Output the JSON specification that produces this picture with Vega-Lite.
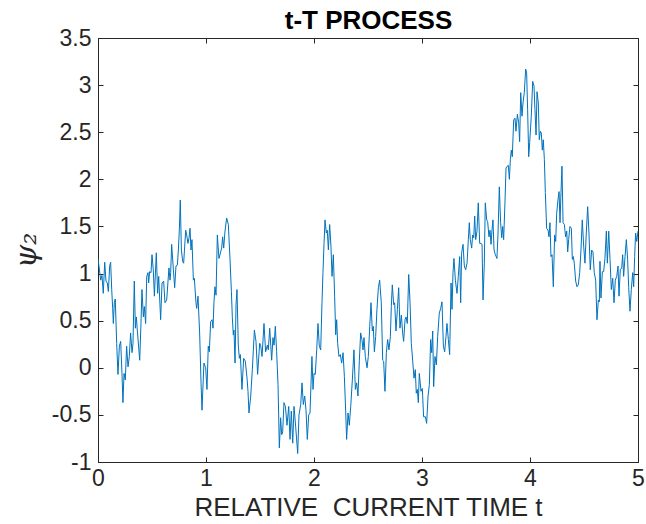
{
  "$schema": "https://vega.github.io/schema/vega-lite/v6.json",
  "width": 540,
  "height": 424,
  "autosize": {"type": "none"},
  "padding": {"left": 98, "top": 38, "right": 8, "bottom": 62},
  "background": "white",
  "config": {
    "view": {"stroke": "#262626", "strokeWidth": 1},
    "axis": {"grid": false}
  },
  "data": {"values": [
{"t":0,"y":1.16},{"t":0.025,"y":0.93},{"t":0.037,"y":0.98},{"t":0.049,"y":0.79},{"t":0.062,"y":1.12},{"t":0.074,"y":0.92},{"t":0.086,"y":0.90},{"t":0.096,"y":0.81},{"t":0.108,"y":1.08},{"t":0.117,"y":1.12},{"t":0.127,"y":0.83},{"t":0.136,"y":0.63},{"t":0.142,"y":0.47},{"t":0.151,"y":0.69},{"t":0.160,"y":0.73},{"t":0.173,"y":0.26},{"t":0.185,"y":-0.07},{"t":0.198,"y":0.23},{"t":0.210,"y":0.28},{"t":0.222,"y":-0.06},{"t":0.231,"y":-0.37},{"t":0.241,"y":-0.06},{"t":0.253,"y":-0.13},{"t":0.265,"y":0.23},{"t":0.278,"y":0.01},{"t":0.290,"y":0.12},{"t":0.302,"y":0.37},{"t":0.315,"y":0.16},{"t":0.324,"y":0.26},{"t":0.336,"y":0.92},{"t":0.346,"y":0.42},{"t":0.355,"y":0.54},{"t":0.364,"y":0.40},{"t":0.386,"y":0.08},{"t":0.398,"y":0.47},{"t":0.407,"y":0.83},{"t":0.420,"y":0.54},{"t":0.429,"y":0.65},{"t":0.441,"y":0.47},{"t":0.451,"y":0.97},{"t":0.463,"y":1.01},{"t":0.469,"y":0.90},{"t":0.478,"y":1.02},{"t":0.491,"y":1.01},{"t":0.500,"y":1.20},{"t":0.512,"y":1.04},{"t":0.522,"y":0.76},{"t":0.540,"y":1.22},{"t":0.552,"y":0.79},{"t":0.562,"y":0.97},{"t":0.580,"y":0.51},{"t":0.593,"y":0.90},{"t":0.608,"y":0.92},{"t":0.620,"y":0.69},{"t":0.636,"y":0.72},{"t":0.657,"y":1.06},{"t":0.667,"y":0.93},{"t":0.673,"y":1.01},{"t":0.682,"y":1.31},{"t":0.698,"y":1.04},{"t":0.710,"y":0.85},{"t":0.722,"y":1.08},{"t":0.735,"y":1.09},{"t":0.744,"y":1.25},{"t":0.753,"y":1.46},{"t":0.762,"y":1.78},{"t":0.772,"y":1.25},{"t":0.784,"y":1.13},{"t":0.793,"y":1.11},{"t":0.812,"y":1.46},{"t":0.821,"y":1.41},{"t":0.833,"y":1.32},{"t":0.843,"y":1.38},{"t":0.852,"y":1.48},{"t":0.861,"y":1.25},{"t":0.870,"y":1.36},{"t":0.883,"y":0.93},{"t":0.892,"y":0.95},{"t":0.907,"y":0.69},{"t":0.914,"y":0.63},{"t":0.926,"y":0.76},{"t":0.941,"y":0.37},{"t":0.954,"y":-0.16},{"t":0.963,"y":-0.45},
{"t":0.981,"y":0.05},{"t":0.997,"y":0.00},{"t":1.009,"y":-0.23},{"t":1.021,"y":0.23},{"t":1.031,"y":0.17},{"t":1.043,"y":0.49},{"t":1.056,"y":0.51},{"t":1.065,"y":0.42},{"t":1.074,"y":0.70},{"t":1.083,"y":0.86},{"t":1.093,"y":0.77},{"t":1.105,"y":1.41},{"t":1.120,"y":1.16},{"t":1.136,"y":1.23},{"t":1.145,"y":1.27},{"t":1.154,"y":1.39},{"t":1.164,"y":1.27},{"t":1.176,"y":1.45},{"t":1.191,"y":1.59},{"t":1.207,"y":1.52},{"t":1.222,"y":1.16},{"t":1.235,"y":0.81},{"t":1.244,"y":0.53},{"t":1.253,"y":0.35},{"t":1.259,"y":0.40},{"t":1.269,"y":0.05},{"t":1.278,"y":0.67},{"t":1.287,"y":0.83},{"t":1.299,"y":0.24},{"t":1.309,"y":0.10},{"t":1.318,"y":0.14},{"t":1.333,"y":-0.23},{"t":1.349,"y":0.10},{"t":1.364,"y":0.07},{"t":1.380,"y":-0.11},{"t":1.389,"y":-0.25},{"t":1.398,"y":-0.48},{"t":1.414,"y":-0.30},{"t":1.429,"y":-0.02},{"t":1.448,"y":0.40},{"t":1.463,"y":0.28},{"t":1.478,"y":-0.07},{"t":1.497,"y":0.26},{"t":1.506,"y":0.24},{"t":1.519,"y":0.12},{"t":1.537,"y":0.47},{"t":1.552,"y":0.17},{"t":1.568,"y":0.24},{"t":1.577,"y":0.19},{"t":1.590,"y":0.42},{"t":1.608,"y":0.08},{"t":1.620,"y":0.32},{"t":1.630,"y":0.24},{"t":1.642,"y":0.44},{"t":1.654,"y":0.17},{"t":1.667,"y":-0.18},{"t":1.679,"y":-0.85},{"t":1.691,"y":-0.53},{"t":1.701,"y":-0.71},{"t":1.710,"y":-0.68},{"t":1.722,"y":-0.37},{"t":1.735,"y":-0.41},{"t":1.750,"y":-0.61},{"t":1.766,"y":-0.41},{"t":1.778,"y":-0.76},{"t":1.790,"y":-0.46},{"t":1.803,"y":-0.80},{"t":1.815,"y":-0.41},{"t":1.830,"y":-0.62},{"t":1.849,"y":-0.91},{"t":1.861,"y":-0.50},{"t":1.877,"y":-0.39},{"t":1.889,"y":-0.16},{"t":1.901,"y":-0.39},{"t":1.914,"y":-0.30},{"t":1.926,"y":-0.45},{"t":1.938,"y":-0.76},{"t":1.951,"y":-0.50},{"t":1.963,"y":-0.48},{"t":1.972,"y":-0.18},
{"t":1.981,"y":0.12},{"t":1.991,"y":-0.23},{"t":2.000,"y":-0.06},{"t":2.012,"y":-0.07},{"t":2.025,"y":0.19},{"t":2.037,"y":0.47},{"t":2.049,"y":0.23},{"t":2.062,"y":0.19},{"t":2.074,"y":0.69},{"t":2.083,"y":1.01},{"t":2.093,"y":1.32},{"t":2.102,"y":1.57},{"t":2.114,"y":1.43},{"t":2.123,"y":1.46},{"t":2.133,"y":1.25},{"t":2.145,"y":1.52},{"t":2.157,"y":1.29},{"t":2.167,"y":0.97},{"t":2.179,"y":1.20},{"t":2.191,"y":0.76},{"t":2.201,"y":0.35},{"t":2.210,"y":0.51},{"t":2.219,"y":0.26},{"t":2.231,"y":0.12},{"t":2.244,"y":0.14},{"t":2.256,"y":0.05},{"t":2.269,"y":0.16},{"t":2.281,"y":-0.09},{"t":2.293,"y":-0.45},{"t":2.302,"y":-0.76},{"t":2.315,"y":-0.48},{"t":2.327,"y":-0.61},{"t":2.340,"y":-0.41},{"t":2.355,"y":-0.13},{"t":2.370,"y":0.19},{"t":2.383,"y":-0.23},{"t":2.395,"y":-0.16},{"t":2.407,"y":-0.30},{"t":2.420,"y":0.08},{"t":2.432,"y":0.37},{"t":2.444,"y":0.30},{"t":2.454,"y":0.19},{"t":2.463,"y":0.32},{"t":2.475,"y":0.12},{"t":2.491,"y":0.00},{"t":2.503,"y":0.12},{"t":2.516,"y":0.44},{"t":2.528,"y":0.69},{"t":2.540,"y":0.39},{"t":2.549,"y":0.44},{"t":2.559,"y":0.17},{"t":2.571,"y":0.33},{"t":2.583,"y":0.62},{"t":2.596,"y":0.85},{"t":2.608,"y":0.93},{"t":2.623,"y":0.69},{"t":2.636,"y":0.08},{"t":2.645,"y":0.07},{"t":2.657,"y":-0.25},{"t":2.670,"y":0.16},{"t":2.682,"y":0.30},{"t":2.694,"y":0.19},{"t":2.707,"y":0.33},{"t":2.716,"y":0.65},{"t":2.725,"y":0.88},{"t":2.738,"y":0.67},{"t":2.747,"y":0.69},{"t":2.759,"y":0.39},{"t":2.772,"y":0.62},{"t":2.784,"y":0.85},{"t":2.796,"y":0.42},{"t":2.809,"y":0.56},{"t":2.821,"y":0.37},{"t":2.830,"y":0.28},{"t":2.843,"y":0.51},{"t":2.852,"y":0.54},{"t":2.864,"y":0.47},{"t":2.877,"y":0.99},{"t":2.889,"y":0.70},{"t":2.901,"y":0.26},{"t":2.914,"y":0.07},{"t":2.926,"y":-0.11},{"t":2.938,"y":-0.02},{"t":2.947,"y":-0.27},{"t":2.957,"y":-0.23},{"t":2.966,"y":-0.37},{"t":2.975,"y":-0.06},
{"t":2.991,"y":-0.25},{"t":3.003,"y":-0.22},{"t":3.015,"y":-0.52},{"t":3.031,"y":-0.52},{"t":3.043,"y":-0.59},{"t":3.056,"y":-0.30},{"t":3.068,"y":-0.18},{"t":3.080,"y":0.30},{"t":3.090,"y":0.16},{"t":3.099,"y":0.39},{"t":3.108,"y":-0.20},{"t":3.120,"y":0.12},{"t":3.133,"y":0.03},{"t":3.145,"y":0.33},{"t":3.160,"y":0.58},{"t":3.173,"y":0.63},{"t":3.185,"y":0.70},{"t":3.198,"y":0.23},{"t":3.210,"y":0.17},{"t":3.222,"y":0.33},{"t":3.231,"y":0.47},{"t":3.244,"y":0.30},{"t":3.256,"y":0.14},{"t":3.269,"y":0.90},{"t":3.278,"y":0.62},{"t":3.287,"y":1.01},{"t":3.296,"y":1.16},{"t":3.309,"y":0.93},{"t":3.324,"y":0.79},{"t":3.336,"y":0.97},{"t":3.349,"y":1.18},{"t":3.358,"y":0.69},{"t":3.367,"y":1.22},{"t":3.380,"y":1.31},{"t":3.392,"y":1.08},{"t":3.404,"y":1.04},{"t":3.417,"y":1.11},{"t":3.429,"y":1.36},{"t":3.438,"y":1.54},{"t":3.447,"y":1.36},{"t":3.460,"y":1.27},{"t":3.469,"y":1.41},{"t":3.479,"y":1.38},{"t":3.488,"y":1.61},{"t":3.497,"y":1.36},{"t":3.509,"y":1.45},{"t":3.521,"y":1.75},{"t":3.534,"y":1.32},{"t":3.546,"y":1.32},{"t":3.556,"y":1.31},{"t":3.565,"y":0.72},{"t":3.577,"y":1.11},{"t":3.586,"y":1.75},{"t":3.599,"y":1.57},{"t":3.608,"y":1.55},{"t":3.620,"y":1.39},{"t":3.630,"y":1.46},{"t":3.639,"y":1.31},{"t":3.648,"y":1.46},{"t":3.657,"y":1.57},{"t":3.667,"y":1.25},{"t":3.679,"y":1.20},{"t":3.694,"y":1.16},{"t":3.704,"y":1.43},{"t":3.716,"y":1.92},{"t":3.728,"y":1.54},{"t":3.738,"y":1.38},{"t":3.747,"y":1.50},{"t":3.756,"y":1.36},{"t":3.769,"y":1.78},{"t":3.778,"y":2.12},{"t":3.790,"y":2.14},{"t":3.799,"y":2.15},{"t":3.809,"y":2.00},{"t":3.818,"y":2.21},{"t":3.827,"y":2.31},{"t":3.836,"y":2.24},{"t":3.849,"y":2.63},{"t":3.861,"y":2.65},{"t":3.870,"y":2.51},{"t":3.883,"y":2.69},{"t":3.895,"y":2.60},{"t":3.904,"y":2.40},{"t":3.914,"y":2.92},{"t":3.926,"y":2.67},{"t":3.935,"y":2.81},{"t":3.947,"y":2.92},{"t":3.960,"y":3.17},{"t":3.969,"y":3.13},{"t":3.978,"y":2.74},{"t":3.988,"y":2.24},{"t":3.997,"y":2.39},
{"t":4.012,"y":2.67},{"t":4.025,"y":3.04},{"t":4.037,"y":2.99},{"t":4.046,"y":2.74},{"t":4.056,"y":2.47},{"t":4.065,"y":2.93},{"t":4.077,"y":2.81},{"t":4.086,"y":2.42},{"t":4.096,"y":2.51},{"t":4.105,"y":2.49},{"t":4.114,"y":2.31},{"t":4.123,"y":2.42},{"t":4.133,"y":2.21},{"t":4.142,"y":1.86},{"t":4.154,"y":1.48},{"t":4.167,"y":1.46},{"t":4.176,"y":1.39},{"t":4.185,"y":1.54},{"t":4.194,"y":1.18},{"t":4.204,"y":1.20},{"t":4.216,"y":0.86},{"t":4.228,"y":1.41},{"t":4.238,"y":1.34},{"t":4.247,"y":1.64},{"t":4.259,"y":1.78},{"t":4.269,"y":1.87},{"t":4.278,"y":1.54},{"t":4.287,"y":1.86},{"t":4.296,"y":2.14},{"t":4.306,"y":1.54},{"t":4.318,"y":1.52},{"t":4.330,"y":1.39},{"t":4.340,"y":1.45},{"t":4.349,"y":1.23},{"t":4.358,"y":1.36},{"t":4.370,"y":1.50},{"t":4.383,"y":1.48},{"t":4.392,"y":1.15},{"t":4.401,"y":1.18},{"t":4.410,"y":1.11},{"t":4.423,"y":0.92},{"t":4.435,"y":0.86},{"t":4.447,"y":0.88},{"t":4.460,"y":1.01},{"t":4.472,"y":1.25},{"t":4.484,"y":1.57},{"t":4.497,"y":1.29},{"t":4.509,"y":1.11},{"t":4.521,"y":1.43},{"t":4.534,"y":1.71},{"t":4.546,"y":1.43},{"t":4.558,"y":1.04},{"t":4.571,"y":1.25},{"t":4.583,"y":1.23},{"t":4.595,"y":1.01},{"t":4.608,"y":0.93},{"t":4.620,"y":0.51},{"t":4.633,"y":0.72},{"t":4.642,"y":0.70},{"t":4.648,"y":1.13},{"t":4.657,"y":0.74},{"t":4.670,"y":1.02},{"t":4.682,"y":1.02},{"t":4.694,"y":1.16},{"t":4.707,"y":1.45},{"t":4.716,"y":1.11},{"t":4.729,"y":1.45},{"t":4.741,"y":1.15},{"t":4.753,"y":0.83},{"t":4.766,"y":0.95},{"t":4.778,"y":0.69},{"t":4.790,"y":0.93},{"t":4.803,"y":0.97},{"t":4.815,"y":1.08},{"t":4.824,"y":0.76},{"t":4.836,"y":1.04},{"t":4.849,"y":1.06},{"t":4.858,"y":1.20},{"t":4.867,"y":0.97},{"t":4.880,"y":1.18},{"t":4.892,"y":1.36},{"t":4.904,"y":1.15},{"t":4.914,"y":0.85},{"t":4.926,"y":0.60},{"t":4.938,"y":0.83},{"t":4.951,"y":1.01},{"t":4.960,"y":0.86},{"t":4.969,"y":1.18},{"t":4.978,"y":1.43},{"t":4.988,"y":1.34},{"t":5.000,"y":1.45}
  ]},
  "layer": [
    {
      "mark": {"type": "line", "color": "#0072BD", "strokeWidth": 1, "clip": true},
      "encoding": {
        "x": {"field": "t", "type": "quantitative", "scale": {"domain": [0, 5], "nice": false, "zero": false},
          "axis": {"orient": "bottom", "values": [0, 1, 2, 3, 4, 5], "labelExpr": "'' + datum.value", "tickSize": -5, "labelPadding": 10, "labelFontSize": 23, "labelFont": "Liberation Sans", "labelColor": "#262626", "tickColor": "#262626", "domainColor": "#262626", "labelFlush": false, "title": "RELATIVE \u00a0CURRENT TIME t", "titleFontSize": 26, "titleFont": "Liberation Sans", "titleFontWeight": "normal", "titleColor": "#262626", "titleBaseline": "alphabetic", "titleY": 53, "titleX": 270, "titleAlign": "center"}},
        "y": {"field": "y", "type": "quantitative", "scale": {"domain": [-1, 3.5], "nice": false, "zero": false},
          "axis": {"orient": "left", "values": [-1, -0.5, 0, 0.5, 1, 1.5, 2, 2.5, 3, 3.5], "labelExpr": "'' + datum.value", "tickSize": -5, "labelPadding": 12, "labelFontSize": 23, "labelFont": "Liberation Sans", "labelColor": "#262626", "tickColor": "#262626", "domainColor": "#262626", "labelFlush": false, "title": "ψ₂", "titleFontSize": 30, "titleFont": "DejaVu Serif", "titleFontStyle": "italic", "titleFontWeight": "normal", "titleColor": "#262626", "titlePadding": 10}}
      }
    },
    {
      "mark": {"type": "line", "strokeOpacity": 0},
      "encoding": {
        "x": {"field": "t", "type": "quantitative", "axis": {"orient": "top", "values": [0, 1, 2, 3, 4, 5], "labels": false, "domain": false, "tickSize": -5, "tickColor": "#262626", "title": "t-T PROCESS", "titleFontSize": 26, "titleFont": "Liberation Sans", "titleFontWeight": "bold", "titleColor": "#000000", "titleBaseline": "alphabetic", "titleY": -10, "titleX": 270, "titleAlign": "center"}},
        "y": {"field": "y", "type": "quantitative", "axis": {"orient": "right", "values": [-1, -0.5, 0, 0.5, 1, 1.5, 2, 2.5, 3, 3.5], "labels": false, "domain": false, "tickSize": -5, "tickColor": "#262626", "title": null}}
      }
    }
  ],
  "resolve": {"axis": {"x": "independent", "y": "independent"}}
}
